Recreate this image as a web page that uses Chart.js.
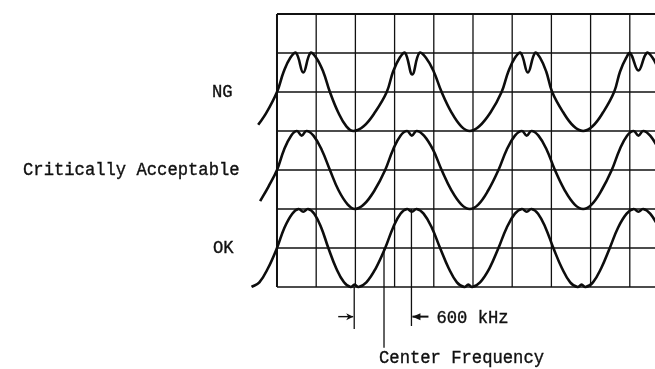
<!DOCTYPE html>
<html>
<head>
<meta charset="utf-8">
<script src="https://cdn.jsdelivr.net/npm/chart.js@4/dist/chart.umd.min.js"></script>
<style>
  html, body { margin: 0; padding: 0; background: #fff; }
  canvas { display: block; }
</style>
</head>
<body>
<canvas id="scope" width="655" height="369"></canvas>
<script>
// Screen grid: 7 divisions high, columns every division from x = 0
const gridRows = 7;
const gridColumns = [0, 1, 2, 3, 4, 5, 6, 7, 8, 9];

// Row captions and the trace centre (in divisions) each one sits beside
const rowLabels = ['NG', 'Critically Acceptable', 'OK'];
const rowCenters = [5, 3, 1];

// NG trace: deep notch at each peak
const ngX = [-0.48, -0.28, 0,
  0.17, 0.34, 0.49, 0.67, 0.85, 1.00, 1.18, 1.35, 1.56, 1.77, 1.95, 2.21, 2.50, 2.80,
  2.96, 3.13, 3.27, 3.45, 3.63, 3.80, 4.00, 4.20, 4.45, 4.70, 4.92, 5.16, 5.45, 5.73,
  5.90, 6.07, 6.22, 6.40, 6.58, 6.71, 6.87, 7.02, 7.30, 7.57, 7.81, 8.05, 8.32, 8.60,
  8.75, 8.91, 9.01, 9.22, 9.43, 9.58, 9.75];
const ngY = [4.16, 4.45, 5.0,
  5.52, 5.88, 6.0, 5.50, 6.0, 5.88, 5.52, 5.0, 4.48, 4.12, 4.0, 4.12, 4.48, 5.0,
  5.52, 5.88, 6.0, 5.45, 6.0, 5.88, 5.52, 5.0, 4.48, 4.12, 4.0, 4.12, 4.48, 5.0,
  5.52, 5.88, 6.0, 5.50, 6.0, 5.88, 5.52, 5.0, 4.48, 4.12, 4.0, 4.12, 4.48, 5.0,
  5.52, 5.88, 6.0, 5.55, 6.0, 5.88, 5.55];

// Critically acceptable trace: shallow notch at each peak
const caX = [-0.43, -0.22, 0,
  0.18, 0.36, 0.51, 0.63, 0.75, 0.93, 1.14, 1.35, 1.57, 1.80, 1.99, 2.22, 2.49, 2.76,
  2.96, 3.15, 3.32, 3.44, 3.56, 3.75, 3.98, 4.20, 4.45, 4.70, 4.92, 5.14, 5.39, 5.65,
  5.86, 6.07, 6.25, 6.37, 6.49, 6.67, 6.88, 7.09, 7.34, 7.59, 7.81, 8.03, 8.28, 8.54,
  8.74, 8.93, 9.10, 9.22, 9.34, 9.52, 9.75];
const caY = [2.20, 2.57, 3.0,
  3.52, 3.88, 4.0, 3.88, 4.0, 3.88, 3.52, 3.0, 2.48, 2.12, 2.0, 2.12, 2.48, 3.0,
  3.52, 3.88, 4.0, 3.88, 4.0, 3.88, 3.52, 3.0, 2.48, 2.12, 2.0, 2.12, 2.48, 3.0,
  3.52, 3.88, 4.0, 3.88, 4.0, 3.88, 3.52, 3.0, 2.48, 2.12, 2.0, 2.12, 2.48, 3.0,
  3.52, 3.88, 4.0, 3.88, 4.0, 3.88, 3.52];

// OK trace: barely visible dimple at peaks and troughs
const okX = [-0.65, -0.45, -0.23, 0,
  0.19, 0.39, 0.55, 0.67, 0.79, 0.95, 1.13, 1.31, 1.51, 1.71, 1.88, 1.98, 2.08, 2.28, 2.52, 2.76,
  2.96, 3.15, 3.32, 3.44, 3.56, 3.74, 3.95, 4.16, 4.38, 4.59, 4.78, 4.88, 4.98, 5.18, 5.42, 5.65,
  5.86, 6.07, 6.25, 6.37, 6.49, 6.66, 6.85, 7.05, 7.27, 7.48, 7.67, 7.77, 7.87, 8.06, 8.27, 8.49,
  8.70, 8.92, 9.10, 9.22, 9.34, 9.52, 9.75];
const okY = [0.0, 0.12, 0.48, 1.0,
  1.52, 1.88, 2.0, 1.93, 2.0, 1.88, 1.52, 1.0, 0.48, 0.12, 0.0, 0.06, 0.0, 0.12, 0.48, 1.0,
  1.52, 1.88, 2.0, 1.93, 2.0, 1.88, 1.52, 1.0, 0.48, 0.12, 0.0, 0.06, 0.0, 0.12, 0.48, 1.0,
  1.52, 1.88, 2.0, 1.93, 2.0, 1.88, 1.52, 1.0, 0.48, 0.12, 0.0, 0.06, 0.0, 0.12, 0.48, 1.0,
  1.52, 1.88, 2.0, 1.93, 2.0, 1.88, 1.52];

// Frequency markers below the screen: position, top and bottom (divisions)
const markerX = [1.97, 2.73, 3.43];
const markerTop = [0, 1, 2];
const markerBottom = [-1.08, -1.56, -1.0];
const markerNames = ['', 'Center Frequency', '600 kHz'];
const arrowLevel = -0.76;

const toPoints = (xs, ys) => xs.map((x, i) => ({ x, y: ys[i] }));

const traceStyle = {
  borderColor: '#0d0d0d',
  borderWidth: 2.6,
  pointRadius: 0,
  fill: false,
  tension: 0.4
};

const datasets = [
  { label: rowLabels[0], data: toPoints(ngX, ngY), ...traceStyle },
  { label: rowLabels[1], data: toPoints(caX, caY), ...traceStyle },
  { label: rowLabels[2], data: toPoints(okX, okY), ...traceStyle }
];
markerX.forEach((mx, i) => {
  datasets.push({
    label: 'marker' + i,
    data: [{ x: mx, y: markerTop[i] }, { x: mx, y: markerBottom[i] }],
    borderColor: '#111',
    borderWidth: 1.3,
    pointRadius: 0,
    tension: 0
  });
});

const MONO = '"Liberation Mono", "DejaVu Sans Mono", monospace';

// Draws the graticule under the traces
const graticule = {
  id: 'graticule',
  beforeDatasetsDraw(chart) {
    const { ctx, chartArea, scales: { x, y } } = chart;
    const left = x.getPixelForValue(0);
    const right = chartArea.right;
    const top = y.getPixelForValue(gridRows);
    const bottom = y.getPixelForValue(0);
    ctx.save();
    ctx.strokeStyle = '#111';
    for (let r = 0; r <= gridRows; r++) {
      const py = y.getPixelForValue(r);
      ctx.lineWidth = (r === gridRows) ? 2 : 1.7;
      ctx.beginPath();
      ctx.moveTo(left, py);
      ctx.lineTo(right, py);
      ctx.stroke();
    }
    gridColumns.forEach(c => {
      const px = x.getPixelForValue(c);
      ctx.lineWidth = (c === 0) ? 2 : 1.3;
      ctx.beginPath();
      ctx.moveTo(px, top);
      ctx.lineTo(px, bottom);
      ctx.stroke();
    });
    ctx.restore();
  }
};

// Captions, arrows and marker names
const captions = {
  id: 'captions',
  afterDatasetsDraw(chart) {
    const { ctx, scales: { x, y } } = chart;
    const stretch = 1.12;
    const drawText = (text, px, baseline) => {
      ctx.save();
      ctx.scale(1, stretch);
      ctx.fillText(text, px, baseline / stretch);
      ctx.lineWidth = 0.35;
      ctx.strokeText(text, px, baseline / stretch);
      ctx.restore();
    };
    ctx.save();
    ctx.fillStyle = '#111';
    ctx.strokeStyle = '#111';
    ctx.font = '17.2px ' + MONO;
    ctx.textBaseline = 'alphabetic';
    ctx.textAlign = 'left';

    const gridLeft = x.getPixelForValue(0);
    const labelLeft = [gridLeft - 65, 23, gridLeft - 64];
    rowLabels.forEach((t, i) => {
      drawText(t, labelLeft[i], y.getPixelForValue(rowCenters[i]) + 5);
    });

    const ay = y.getPixelForValue(arrowLevel);
    ctx.lineWidth = 1.4;

    // arrow pointing right onto the first marker
    const m0 = x.getPixelForValue(markerX[0]);
    ctx.beginPath();
    ctx.moveTo(m0 - 16, ay);
    ctx.lineTo(m0 - 1, ay);
    ctx.stroke();
    ctx.beginPath();
    ctx.moveTo(m0 - 1, ay);
    ctx.lineTo(m0 - 8, ay - 3.5);
    ctx.lineTo(m0 - 6, ay);
    ctx.lineTo(m0 - 8, ay + 3.5);
    ctx.closePath();
    ctx.fill();

    // arrow pointing left onto the 600 kHz marker
    const m2 = x.getPixelForValue(markerX[2]);
    ctx.lineWidth = 2;
    ctx.beginPath();
    ctx.moveTo(m2 + 1, ay);
    ctx.lineTo(m2 + 17, ay);
    ctx.stroke();
    ctx.beginPath();
    ctx.moveTo(m2 + 1, ay);
    ctx.lineTo(m2 + 9, ay - 3.5);
    ctx.lineTo(m2 + 9, ay + 3.5);
    ctx.closePath();
    ctx.fill();

    drawText(markerNames[2], m2 + 25, ay + 6);

    const m1 = x.getPixelForValue(markerX[1]);
    drawText(markerNames[1], m1 - 5, y.getPixelForValue(markerBottom[1]) + 15);
    ctx.restore();
  }
};

new Chart(document.getElementById('scope'), {
  type: 'line',
  data: { datasets },
  options: {
    responsive: false,
    devicePixelRatio: 1,
    animation: false,
    layout: { padding: 0 },
    plugins: { legend: { display: false }, tooltip: { enabled: false } },
    scales: {
      x: { type: 'linear', min: -7.066, max: 9.643, display: false },
      y: { type: 'linear', min: -2.103, max: 7.359, display: false }
    }
  },
  plugins: [graticule, captions]
});
</script>
</body>
</html>
